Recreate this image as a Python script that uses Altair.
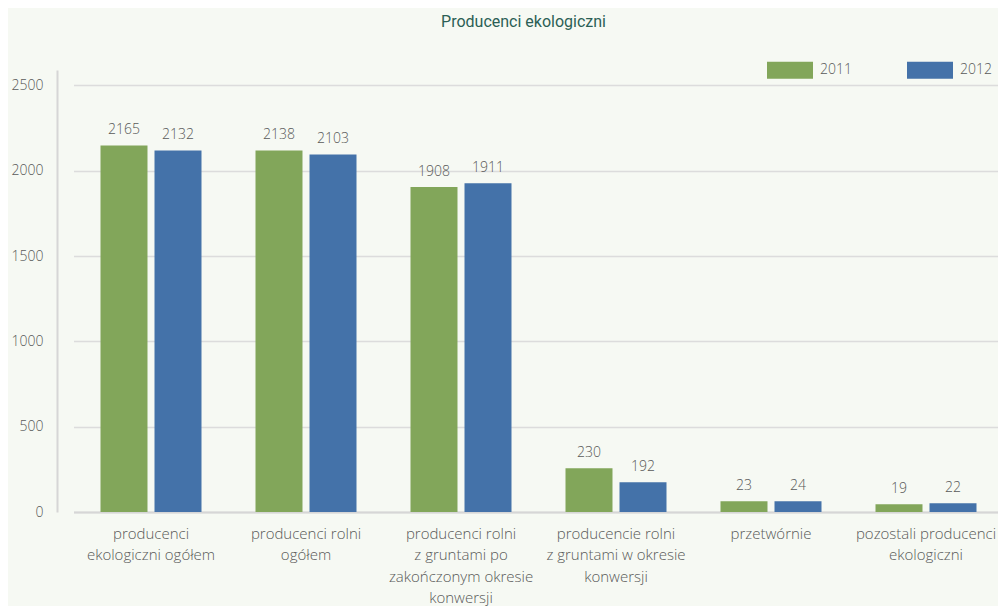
import altair as alt
import pandas as pd

categories = [
    "producenci\nekologiczni ogółem",
    "producenci rolni\nogółem",
    "producenci rolni\nz gruntami po\nzakończonym okresie\nkonwersji",
    "producencie rolni\nz gruntami w okresie\nkonwersji",
    "przetwórnie",
    "pozostali producenci\nekologiczni",
]
years = ["2011", "2012"]

# values printed above the bars
labels_2011 = [2165, 2138, 1908, 230, 23, 19]
labels_2012 = [2132, 2103, 1911, 192, 24, 22]
# bar heights as drawn in the picture
bars_2011 = [2148, 2119, 1904, 256, 63, 45]
bars_2012 = [2119, 2095, 1927, 174, 63, 51]

rows = []
for i, c in enumerate(categories):
    rows.append({"category": c, "year": "2011", "height": bars_2011[i], "label": labels_2011[i]})
    rows.append({"category": c, "year": "2012", "height": bars_2012[i], "label": labels_2012[i]})
df = pd.DataFrame(rows)

FONT = "Open Sans"
GREY = "#595959"

x = alt.X(
    "category:N",
    sort=categories,
    title=None,
    scale=alt.Scale(range=[16.5, 946.5], paddingInner=0, paddingOuter=0),
    axis=alt.Axis(
        labelAngle=0,
        ticks=False,
        domainColor="#d6d6d6",
        domainWidth=2,
        labelPadding=14,
        labelFontSize=15,
        labelFont=FONT,
        labelFontWeight=300,
        labelColor=GREY,
        labelLimit=300,
        labelLineHeight=21.5,
        labelBaseline="top",
        labelExpr="split(datum.label, '\\n')",
    ),
)
xoff = alt.XOffset(
    "year:N",
    scale=alt.Scale(paddingInner=0.13, paddingOuter=0.5),
)
y = alt.Y(
    "height:Q",
    title=None,
    scale=alt.Scale(domain=[0, 2590], nice=False),
    axis=alt.Axis(
        values=[0, 500, 1000, 1500, 2000, 2500],
        format="d",
        grid=True,
        gridColor="#dcdcdc",
        gridWidth=1.5,
        ticks=False,
        domainColor="#d6d6d6",
        domainWidth=2,
        labelPadding=14,
        labelFontSize=14,
        labelFont=FONT,
        labelFontWeight=300,
        labelColor=GREY,
    ),
)
color = alt.Color(
    "year:N",
    scale=alt.Scale(domain=years, range=["#82A65A", "#4472A9"]),
    legend=alt.Legend(
        title=None,
        orient="none",
        legendX=710,
        legendY=-23,
        direction="horizontal",
        symbolType="M-1,-0.37H1V0.37H-1Z",
        symbolSize=2116,
        symbolStrokeWidth=0,
        symbolOpacity=1,
        labelOffset=7,
        columnPadding=55,
        labelFontSize=14,
        labelFont=FONT,
        labelFontWeight=300,
        labelColor=GREY,
    ),
)

base = alt.Chart(df).encode(x=x, xOffset=xoff, y=y)
bars = base.mark_bar().encode(color=color)
texts = base.mark_text(
    baseline="alphabetic", dy=-11, fontSize=14, font=FONT, fontWeight=300, color=GREY
).encode(text="label:Q")

chart = (
    alt.layer(bars, texts)
    .properties(
        width=941,
        height=442,
        autosize=alt.AutoSizeParams(type="none"),
        padding={"left": 49, "top": 62, "right": 0, "bottom": 94},
        background="#f6f9f3",
        title=alt.TitleParams(
            "Producenci ekologiczni",
            anchor="middle",
            frame="group",
            offset=17,
            dx=-4,
            font="Roboto",
            fontSize=16,
            fontWeight="normal",
            color="#2b5f55",
        ),
    )
    .configure_view(stroke=None)
)

chart.save("out.html", embed_options={"renderer": "svg", "actions": False})
